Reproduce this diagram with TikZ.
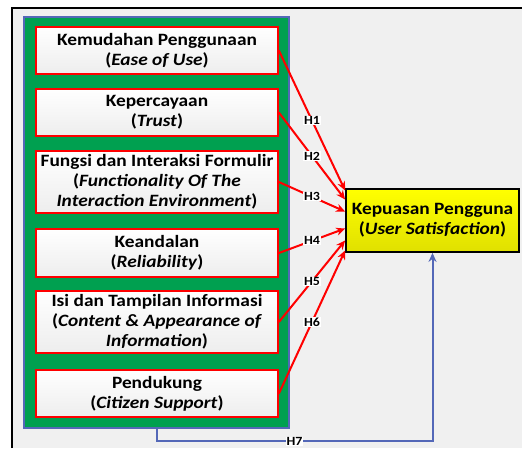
\documentclass[tikz,border=0pt]{standalone}
\usepackage{fontspec}
\setmainfont{Carlito}[FakeStretch=1.12]
\usetikzlibrary{arrows.meta,shadows}
\definecolor{grpgreen}{RGB}{0,160,80}
\definecolor{grpblue}{RGB}{84,104,184}
\definecolor{bggray}{RGB}{240,240,240}
\tikzset{
  varbox/.style={draw=red, line width=1.8pt, top color=white, bottom color=gray!14,
    minimum width=242pt, align=center, font=\bfseries\fontsize{17.3}{20}\selectfont,
    drop shadow={shadow xshift=1pt,shadow yshift=-1pt,opacity=0.3}},
  hyp/.style={->, >={Stealth[length=9pt,width=8pt]}, red, line width=2pt},
  hlabel/.style={fill=white, inner sep=0.6pt, text=black,
    font=\bfseries\fontsize{12.5}{13}\selectfont}
}
\begin{document}
\begin{tikzpicture}[x=1pt,y=-1pt]
  \useasboundingbox (0,0) rectangle (522,448);
  \fill[bggray] (12,8) rectangle (522,448);
  \draw[line width=2pt] (12,448) -- (12,8) -- (522,8);

  % group of independent variables
  \node[draw=grpblue, fill=grpgreen, line width=1.5pt, minimum width=265pt,
    minimum height=411pt] (grp) at (156.5,222.5) {};

  \node[varbox, minimum height=47pt] (b1) at (157,50.5) {Kemudahan Penggunaan\\(\textit{Ease of Use})};
  \node[varbox, minimum height=47pt] (b2) at (157,112.5) {Kepercayaan\\(\textit{Trust})};
  \node[varbox, minimum height=62pt] (b3) at (157,182) {Fungsi dan Interaksi Formulir\\(\textit{Functionality Of The}\\\textit{Interaction Environment})};
  \node[varbox, minimum height=48pt] (b4) at (157,253) {Keandalan\\(\textit{Reliability})};
  \node[varbox, minimum height=62pt] (b5) at (157,322) {Isi dan Tampilan Informasi\\(\textit{Content \& Appearance of}\\\textit{Information})};
  \node[varbox, minimum height=47pt] (b6) at (157,393.5) {Pendukung\\(\textit{Citizen Support})};

  \node[draw, line width=1.8pt, top color=yellow, bottom color=yellow!88!black,
    minimum width=173pt, minimum height=63pt, align=center,
    font=\bfseries\fontsize{17.3}{20}\selectfont,
    drop shadow={shadow xshift=1pt,shadow yshift=-1pt,opacity=0.3}]
    (us) at (432.5,220.5) {Kepuasan Pengguna\\(\textit{User Satisfaction})};

  \foreach \i/\dy in {1/30,2/21,3/9,4/-8,5/-20,6/-30}
    \draw[hyp] (b\i.east) -- node[hlabel]{H\i} ([yshift=\dy pt]us.west);

  \draw[->, >={Stealth[length=9pt,width=8pt]}, grpblue, line width=2pt]
    (grp.south) -- ++(0,12.5) -| node[pos=0.25, hlabel]{H7} (us.south);
\end{tikzpicture}
\end{document}
